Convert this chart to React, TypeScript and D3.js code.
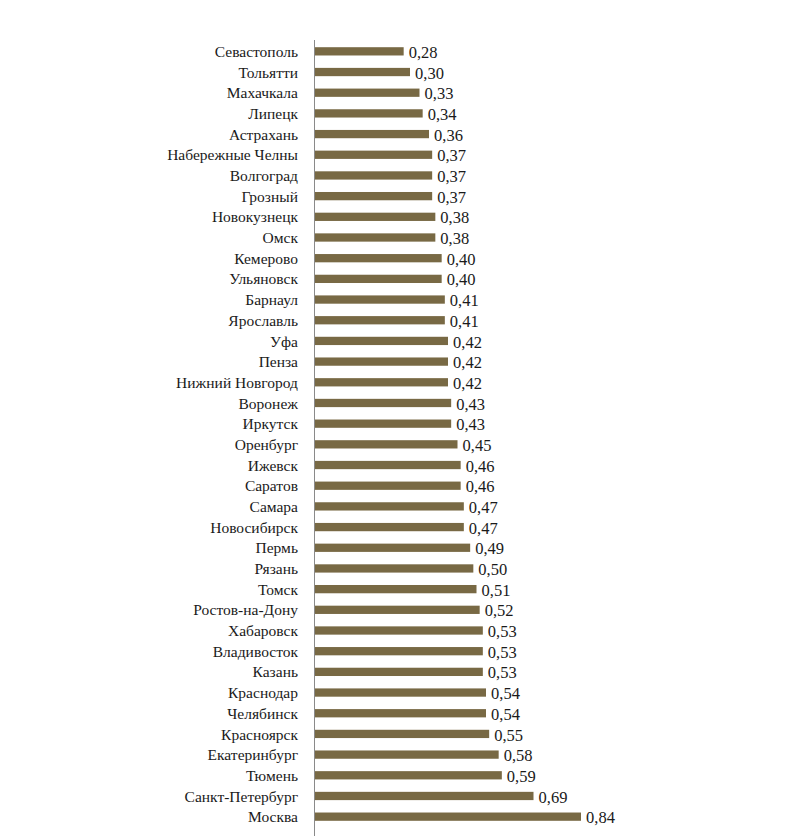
import React, { useEffect, useRef } from 'react';
import * as d3 from 'd3';

const cities = [
  'Севастополь', 'Тольятти', 'Махачкала', 'Липецк', 'Астрахань', 'Набережные Челны',
  'Волгоград', 'Грозный', 'Новокузнецк', 'Омск', 'Кемерово', 'Ульяновск', 'Барнаул',
  'Ярославль', 'Уфа', 'Пенза', 'Нижний Новгород', 'Воронеж', 'Иркутск', 'Оренбург',
  'Ижевск', 'Саратов', 'Самара', 'Новосибирск', 'Пермь', 'Рязань', 'Томск',
  'Ростов-на-Дону', 'Хабаровск', 'Владивосток', 'Казань', 'Краснодар', 'Челябинск',
  'Красноярск', 'Екатеринбург', 'Тюмень', 'Санкт-Петербург', 'Москва',
];

const values = [
  0.28, 0.30, 0.33, 0.34, 0.36, 0.37, 0.37, 0.37, 0.38, 0.38, 0.40, 0.40, 0.41,
  0.41, 0.42, 0.42, 0.42, 0.43, 0.43, 0.45, 0.46, 0.46, 0.47, 0.47, 0.49, 0.50, 0.51,
  0.52, 0.53, 0.53, 0.53, 0.54, 0.54, 0.55, 0.58, 0.59, 0.69, 0.84,
];

const W = 790;
const H = 838;

const App: React.FC = () => {
  const svgRef = useRef<SVGSVGElement>(null);

  useEffect(() => {
    if (!svgRef.current) return;
    const svg = d3.select(svgRef.current);
    svg.selectAll('*').remove();

    const data = cities.map((c, i) => ({ city: c, value: values[i] }));

    const x = d3.scaleLinear().domain([0, 0.84]).range([315, 581]);
    const y = d3
      .scaleBand<string>()
      .domain(cities)
      .range([41, 827])
      .paddingInner(0.6)
      .paddingOuter(0.3);

    const barColor = '#786944';
    const font = 'Liberation Serif, DejaVu Serif, serif';

    svg.append('rect').attr('width', W).attr('height', H).attr('fill', '#ffffff');

    // bars
    svg
      .selectAll('.bar')
      .data(data)
      .enter()
      .append('rect')
      .attr('class', 'bar')
      .attr('x', x(0))
      .attr('y', d => y(d.city)!)
      .attr('width', d => x(d.value) - x(0))
      .attr('height', y.bandwidth())
      .attr('fill', barColor);

    // value labels
    svg
      .selectAll('.val')
      .data(data)
      .enter()
      .append('text')
      .attr('class', 'val')
      .attr('x', d => x(d.value) + 5)
      .attr('y', d => y(d.city)! + y.bandwidth() / 2)
      .attr('dy', '0.4em')
      .attr('font-family', font)
      .attr('font-size', 16.5)
      .attr('fill', '#1a1a1a')
      .text(d => d.value.toFixed(2).replace('.', ','));

    // category labels
    svg
      .selectAll('.cat')
      .data(data)
      .enter()
      .append('text')
      .attr('class', 'cat')
      .attr('x', 298)
      .attr('y', d => y(d.city)! + y.bandwidth() / 2)
      .attr('dy', '0.36em')
      .attr('text-anchor', 'end')
      .attr('font-family', font)
      .attr('font-size', 15.5)
      .attr('fill', '#1a1a1a')
      .text(d => d.city);

    // axis line
    svg
      .append('line')
      .attr('x1', 314.5)
      .attr('x2', 314.5)
      .attr('y1', 40)
      .attr('y2', 836)
      .attr('stroke', '#8a8a8a')
      .attr('stroke-width', 1);
  }, []);

  return (
    <svg
      ref={svgRef}
      width={W}
      height={H}
      style={{ position: 'absolute', left: 0, top: 0 }}
    />
  );
};

export default App;
